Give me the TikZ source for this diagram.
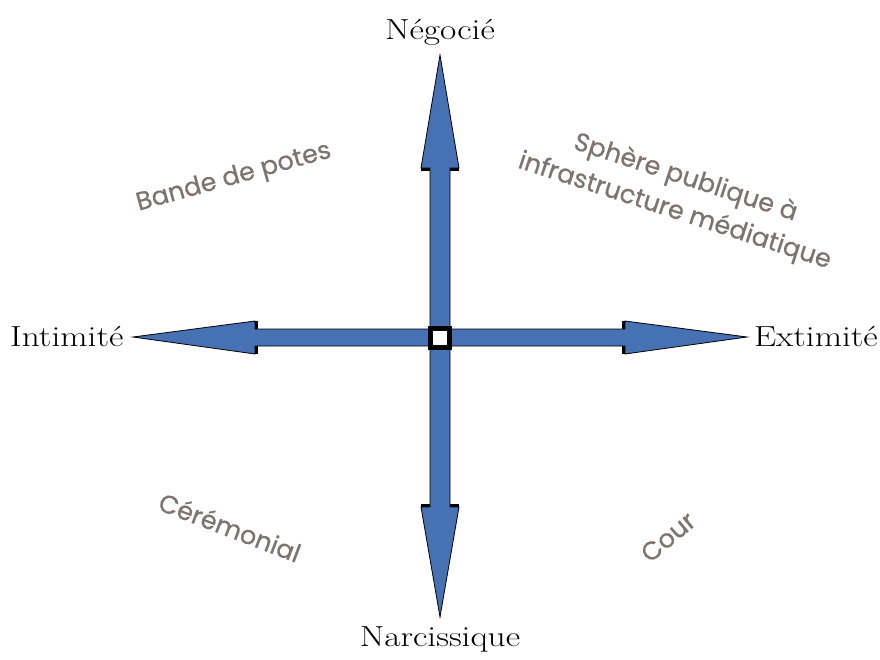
\documentclass[tikz,border=0pt]{standalone}
\usepackage{fontspec}
\usepackage{graphicx}
\newfontfamily\handfont[FakeBold=0.6]{Poppins}
\newcommand\widetext[1]{\scalebox{1.22}[1]{#1}}
\definecolor{arrblue}{RGB}{70,114,180}
\definecolor{txtgrey}{RGB}{125,116,112}
\begin{document}
\begin{tikzpicture}[x=1pt,y=-1pt,
  arrowshape/.style={fill=arrblue,draw=black,line width=0.8pt,line join=miter},
  axislabel/.style={font=\fontsize{29}{33}\selectfont,text=black,inner sep=0pt},
  zonelabel/.style={font=\handfont\fontsize{25.5}{31}\selectfont,text=txtgrey,inner sep=0pt,align=center}]
\useasboundingbox (0,0) rectangle (880,659);
% shadows
\fill[black] (421,171) -- (459,171) -- (459,166) -- (421,166) -- cycle;
\fill[black] (421,504) -- (459,504) -- (459,509) -- (421,509) -- cycle;
\fill[black] (258,321) -- (258,354) -- (253,354) -- (253,321) -- cycle;
\fill[black] (622,321) -- (622,354) -- (627,354) -- (627,321) -- cycle;
% up arrow
\draw[arrowshape] (430,337) -- (430,168) -- (421,168) -- (440,55) -- (459,168) -- (450,168) -- (450,337) -- cycle;
% down arrow
\draw[arrowshape] (430,337) -- (430,507) -- (421,507) -- (440,617) -- (459,507) -- (450,507) -- (450,337) -- cycle;
% left arrow
\draw[arrowshape] (440,329) -- (255,329) -- (255,321) -- (133,337) -- (255,354) -- (255,346) -- (440,346) -- cycle;
% right arrow
\draw[arrowshape] (440,329) -- (625,329) -- (625,321) -- (747,337) -- (625,354) -- (625,346) -- (440,346) -- cycle;
% centre square
\fill[black] (428,326) rectangle (452,350);
\fill[white] (433,331) rectangle (447,345);
% axis labels
\node[axislabel,anchor=base] (neg) at (440,39) {\widetext{Négocié}};
\node[axislabel,anchor=base] (nar) at (440,646) {\widetext{Narcissique}};
\node[axislabel,anchor=base west] (int) at (10,346) {\widetext{Intimité}};
\node[axislabel,anchor=base east] (ext) at (878,346) {\widetext{Extimité}};
% zone labels
\node[zonelabel,rotate=15.5] (bande) at (234,178) {Bande de potes};
\node[zonelabel,rotate=-18,font=\handfont\fontsize{25.5}{34}\selectfont] (sphere) at (680,195) {Sphère publique à\\[1pt]infrastructure médiatique};
\node[zonelabel,rotate=-21] (cerem) at (230,527) {Cérémonial};
\node[zonelabel,rotate=40] (cour) at (668,537) {Cour};
\end{tikzpicture}
\end{document}
